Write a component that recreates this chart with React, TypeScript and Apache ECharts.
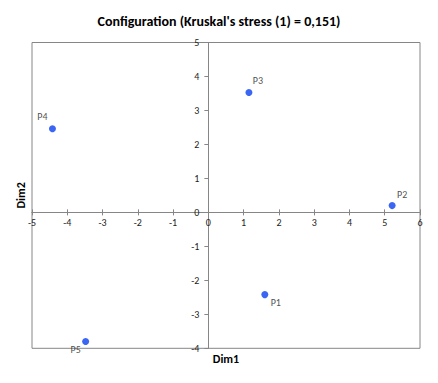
import React, { useEffect, useRef } from "react";
import * as echarts from "echarts";

const names = ["P1", "P2", "P3", "P4", "P5"];
const dim1 = [1.6, 5.21, 1.15, -4.42, -3.48];
const dim2 = [-2.42, 0.2, 3.53, 2.46, -3.8];
const labelOffsets: [number, number][] = [[11, 8], [10, -11], [9, -12], [-10, -12], [-10, 8]];
const titleText = "Configuration (Kruskal's stress (1) = 0,151)";
const xMin = -5, xMax = 6, yMin = -4, yMax = 5;
const FONT = "Carlito, Lato, 'Liberation Sans', sans-serif";

export default function App() {
  const ref = useRef<HTMLDivElement>(null);
  useEffect(() => {
    if (!ref.current) return;
    const chart = echarts.init(ref.current, undefined, { renderer: "svg" });
    const axisColor = "#868686";
    const W = 438, H = 383;
    const gridLeft = 32, gridRight = 18, gridTop = 42.5, gridBottom = 34.7;
    const gridW = W - gridLeft - gridRight;
    const gridH = H - gridTop - gridBottom;
    // place the axes where the other axis is zero, through the axis scales
    const xOffset = -((0 - yMin) / (yMax - yMin)) * gridH;
    const yOffset = -((0 - xMin) / (xMax - xMin)) * gridW;
    const baseX = {
      type: "value", min: xMin, max: xMax, interval: 1, position: "bottom", offset: xOffset,
      axisLine: { onZero: false, lineStyle: { color: axisColor } },
      splitLine: { show: false },
    };
    chart.setOption({
      animation: false,
      backgroundColor: "#ffffff",
      textStyle: { fontFamily: FONT },
      title: {
        text: titleText,
        left: "center",
        top: 9,
        textStyle: { fontSize: 14, fontWeight: "bold", color: "#000", fontFamily: FONT },
      },
      grid: {
        left: gridLeft, right: gridRight, top: gridTop, bottom: gridBottom,
        show: true, borderColor: axisColor, borderWidth: 1, backgroundColor: "transparent",
      },
      xAxis: [
        {
          ...baseX,
          axisTick: { show: true, length: 3, lineStyle: { color: axisColor } },
          axisLabel: { color: "#222", fontSize: 10, margin: 5, fontFamily: FONT },
        },
        {
          ...baseX,
          axisTick: { show: true, inside: true, length: 3, lineStyle: { color: axisColor } },
          axisLabel: { show: false },
        },
      ],
      yAxis: {
        type: "value", min: yMin, max: yMax, interval: 1, position: "left", offset: yOffset,
        axisLine: { onZero: false, lineStyle: { color: axisColor } },
        axisTick: { show: true, length: 4, lineStyle: { color: axisColor } },
        axisLabel: { color: "#222", fontSize: 10, margin: 9, fontFamily: FONT },
        splitLine: { show: false },
      },
      graphic: [
        {
          type: "text",
          x: gridLeft + gridW / 2,
          y: 359,
          style: { text: "Dim1", font: `bold 12px ${FONT}`, fill: "#000", align: "center", verticalAlign: "middle" },
        },
        {
          type: "text",
          x: 21,
          y: gridTop + gridH / 2,
          rotation: Math.PI / 2,
          style: { text: "Dim2", font: `bold 12px ${FONT}`, fill: "#000", align: "center", verticalAlign: "middle" },
        },
      ],
      series: [
        {
          type: "scatter",
          xAxisIndex: 0,
          symbolSize: 7,
          itemStyle: { color: "#0a3ff0" },
          data: names.map((n, i) => ({
            value: [dim1[i], dim2[i]],
            name: n,
            label: {
              show: true,
              formatter: n,
              position: "inside",
              offset: labelOffsets[i],
              color: "#222",
              fontSize: 10,
              fontFamily: FONT,
            },
          })),
        },
      ],
    });
    return () => chart.dispose();
  }, []);
  return <div ref={ref} style={{ position: "absolute", left: 0, top: 0, width: 438, height: 383 }} />;
}
